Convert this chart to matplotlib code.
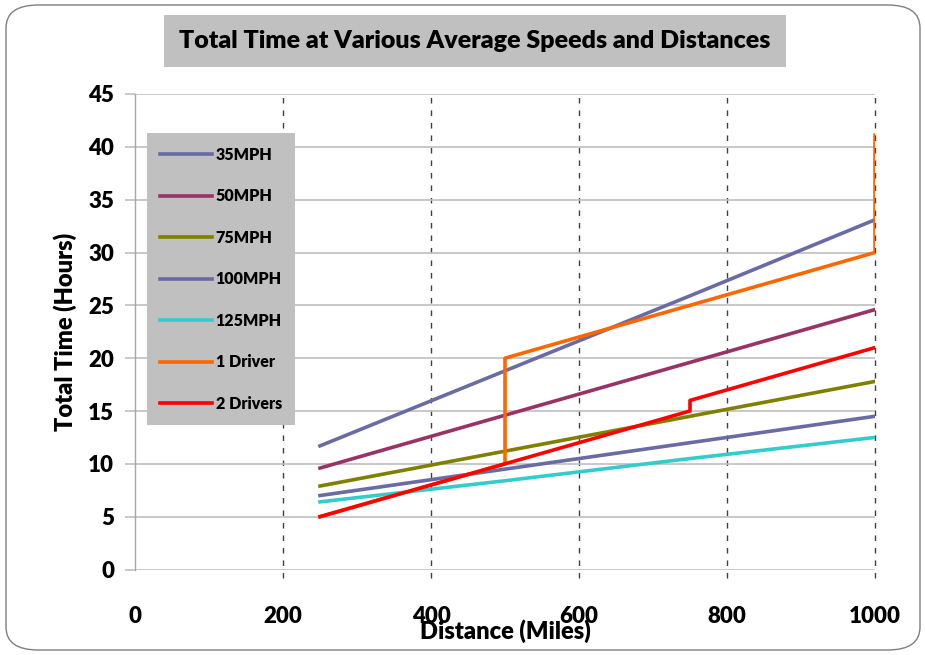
import matplotlib.pyplot as plt
from matplotlib.patches import FancyBboxPatch

plt.rcParams['font.family'] = ['Lato', 'DejaVu Sans']
plt.rcParams['font.weight'] = 'bold'

# Data
distance = [250, 500, 750, 1000]
mph35 = [11.7, 18.8, 25.9, 33.1]
mph50 = [9.6, 14.6, 19.6, 24.6]
mph75 = [7.9, 11.2, 14.5, 17.8]
mph100 = [7.0, 9.5, 12.0, 14.5]
mph125 = [6.4, 8.4, 10.5, 12.5]

driver1_x = [250, 500, 500, 750, 1000, 1000]
driver1_y = [5, 10, 20, 25, 30, 41.1]
driver2_x = [250, 500, 750, 750, 1000]
driver2_y = [5, 10, 15, 16, 21]

fig = plt.figure(figsize=(9.25, 6.55), dpi=100)

# rounded chart border
border = FancyBboxPatch((6 / 925, 5 / 655), 914 / 925, 645 / 655,
                        boxstyle="round,pad=0,rounding_size=0.035",
                        transform=fig.transFigure, facecolor='none',
                        edgecolor='#7f7f7f', linewidth=1.0, zorder=-1)
fig.patches.append(border)

ax = fig.add_axes([135 / 925, 85.5 / 655, 740 / 925, 475.5 / 655])
ax.set_facecolor('none')

lw = 2.6
ax.plot(distance, mph35, color='#686BA4', lw=lw, label='35MPH')
ax.plot(distance, mph50, color='#993366', lw=lw, label='50MPH')
ax.plot(distance, mph75, color='#808000', lw=lw, label='75MPH')
ax.plot(distance, mph100, color='#686BA4', lw=lw, label='100MPH')
ax.plot(distance, mph125, color='#33CCCC', lw=lw, label='125MPH')
ax.plot(driver1_x, driver1_y, color='#FF6600', lw=lw, label='1 Driver')
ax.plot(driver2_x, driver2_y, color='#FF0000', lw=lw, label='2 Drivers')

ax.set_xlim(0, 1000)
ax.set_ylim(0, 45)
ax.set_xticks([0, 200, 400, 600, 800, 1000])
ax.set_yticks(range(0, 50, 5))

for s in ['top', 'right', 'bottom']:
    ax.spines[s].set_visible(False)
ax.spines['left'].set_color('#a6a6a6')
ax.spines['left'].set_linewidth(1.0)

ax.grid(axis='y', color='#bfbfbf', linestyle='-', linewidth=1.2, zorder=0)
for xv in [200, 400, 600, 800, 1000]:
    ax.plot([xv, xv], [-0.8, 45], color='#404040', linestyle=(0, (4, 5)),
            linewidth=1.0, zorder=0, clip_on=False)
ax.set_axisbelow(True)

ax.tick_params(axis='y', length=7, color='#bfbfbf', width=1.2, pad=8, labelsize=16)
ax.tick_params(axis='x', length=0, pad=26, labelsize=16)
for t in ax.get_xticklabels() + ax.get_yticklabels():
    t.set_fontweight('heavy')

ax.set_xlabel('Distance (Miles)', fontsize=17, fontweight='heavy', labelpad=-5.5)
ax.set_ylabel('Total Time (Hours)', fontsize=17, fontweight='heavy', labelpad=8)

leg = ax.legend(loc='upper left', bbox_to_anchor=(0.016, 0.918), borderaxespad=0,
                handlelength=3.2, labelspacing=1.6, borderpad=0.85,
                handletextpad=0.25, frameon=True, fancybox=False,
                prop={'weight': 'heavy', 'size': 11.5})
leg.get_frame().set_facecolor('#C0C0C0')
leg.get_frame().set_edgecolor('none')
leg.get_frame().set_alpha(1)

fig.text(475 / 925, 1 - 41 / 655, 'Total Time at Various Average Speeds and Distances',
         ha='center', va='center', fontsize=18, fontweight='heavy',
         bbox=dict(facecolor='#C0C0C0', edgecolor='none', pad=11))

fig.savefig('out.png', dpi=100)
